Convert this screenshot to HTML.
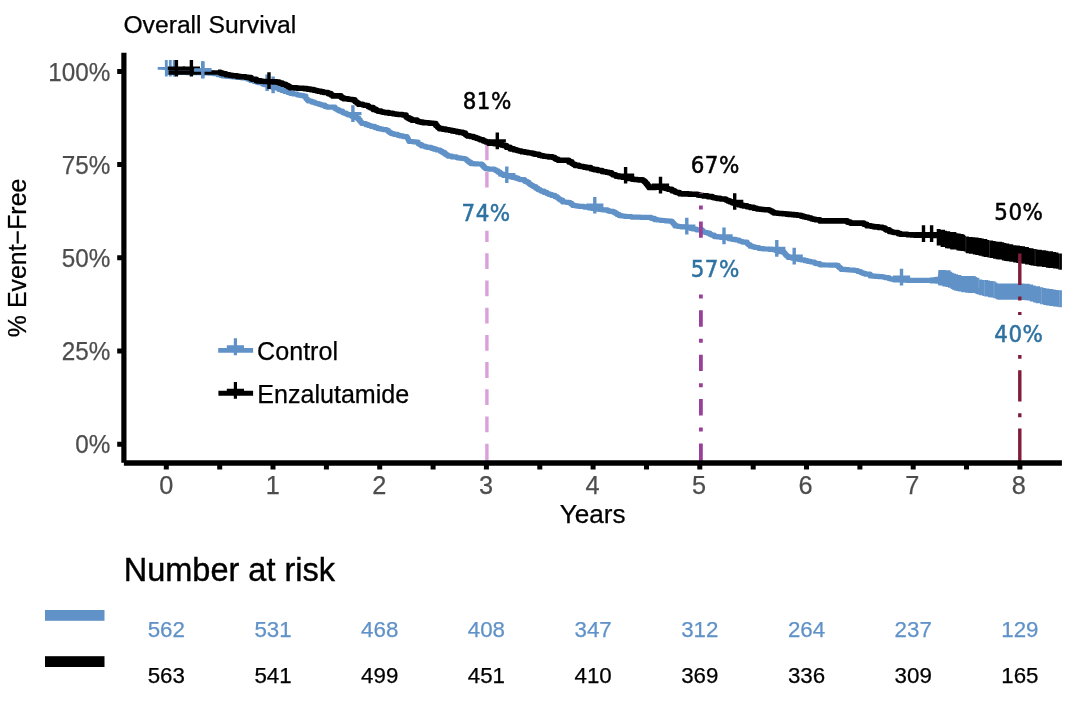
<!DOCTYPE html>
<html lang="en"><head><meta charset="utf-8"><title>Overall Survival</title>
<style>html,body{margin:0;padding:0;background:#fff}svg{display:block}text{font-family:"Liberation Sans",Arial,Helvetica,sans-serif}.ann{font-family:"DejaVu Sans Condensed","Liberation Sans",sans-serif}</style></head><body>
<svg width="1080" height="709" viewBox="0 0 1080 709">
<rect width="1080" height="709" fill="#fff"/>
<text stroke="#000" stroke-width="0.25" x="123.4" y="33.1" font-size="24.7" fill="#000">Overall Survival</text>
<text stroke="#000" stroke-width="0.25" transform="translate(26.3,257.9) rotate(-90)" text-anchor="middle" font-size="25.4" textLength="158.5" lengthAdjust="spacingAndGlyphs" fill="#000">% Event−Free</text>
<text stroke="#4d4d4d" stroke-width="0.25" x="110.4" y="80.6" text-anchor="end" font-size="25.6" textLength="62.1" lengthAdjust="spacingAndGlyphs" fill="#4d4d4d">100%</text>
<text stroke="#4d4d4d" stroke-width="0.25" x="110.4" y="173.8" text-anchor="end" font-size="25.6" textLength="48.6" lengthAdjust="spacingAndGlyphs" fill="#4d4d4d">75%</text>
<text stroke="#4d4d4d" stroke-width="0.25" x="110.4" y="267.0" text-anchor="end" font-size="25.6" textLength="48.6" lengthAdjust="spacingAndGlyphs" fill="#4d4d4d">50%</text>
<text stroke="#4d4d4d" stroke-width="0.25" x="110.4" y="360.2" text-anchor="end" font-size="25.6" textLength="48.6" lengthAdjust="spacingAndGlyphs" fill="#4d4d4d">25%</text>
<text stroke="#4d4d4d" stroke-width="0.25" x="110.4" y="453.4" text-anchor="end" font-size="25.6" textLength="35.1" lengthAdjust="spacingAndGlyphs" fill="#4d4d4d">0%</text>
<text stroke="#4d4d4d" stroke-width="0.25" x="166.3" y="493.5" text-anchor="middle" font-size="25.3" fill="#4d4d4d">0</text>
<text stroke="#4d4d4d" stroke-width="0.25" x="272.9" y="493.5" text-anchor="middle" font-size="25.3" fill="#4d4d4d">1</text>
<text stroke="#4d4d4d" stroke-width="0.25" x="379.4" y="493.5" text-anchor="middle" font-size="25.3" fill="#4d4d4d">2</text>
<text stroke="#4d4d4d" stroke-width="0.25" x="486.0" y="493.5" text-anchor="middle" font-size="25.3" fill="#4d4d4d">3</text>
<text stroke="#4d4d4d" stroke-width="0.25" x="592.5" y="493.5" text-anchor="middle" font-size="25.3" fill="#4d4d4d">4</text>
<text stroke="#4d4d4d" stroke-width="0.25" x="699.0" y="493.5" text-anchor="middle" font-size="25.3" fill="#4d4d4d">5</text>
<text stroke="#4d4d4d" stroke-width="0.25" x="805.6" y="493.5" text-anchor="middle" font-size="25.3" fill="#4d4d4d">6</text>
<text stroke="#4d4d4d" stroke-width="0.25" x="912.2" y="493.5" text-anchor="middle" font-size="25.3" fill="#4d4d4d">7</text>
<text stroke="#4d4d4d" stroke-width="0.25" x="1018.7" y="493.5" text-anchor="middle" font-size="25.3" fill="#4d4d4d">8</text>
<text stroke="#000" stroke-width="0.25" x="592.6" y="522.9" text-anchor="middle" font-size="26.1" fill="#000">Years</text>
<path d="M486.9 144.5V160.3M486.9 171.7V187.5M486.9 230.8V242.1M486.9 253.3V269.1M486.9 280.5V296.3M486.9 307.7V323.5M486.9 334.9V350.7M486.9 362.1V377.9M486.9 389.3V405.1M486.9 416.5V432.3M486.9 443.7V461.0" stroke="#daa0da" stroke-width="3.4" fill="none"/>
<path d="M166.3 72.3H171.5V72.4H173.3V72.4H175.8V72.4H179.3V72.5H184.5V72.5H186.3V72.6H187.8V72.6H190.2V72.6H192.6V72.6H195.4V72.7H198.4V72.7H200.0V72.7H205.0V72.8H208.2V73.1H209.8V73.2H213.5V73.6H218.0V74.7H220.4V75.3H222.6V75.9H225.9V76.2H227.4V76.4H230.6V76.7H233.4V77.0H235.0V77.1H237.0V77.3H241.6V77.8H245.1V78.1H247.5V79.1H250.7V80.4H253.7V81.3H256.4V82.1H258.6V82.7H262.5V84.0H264.1V84.6H267.7V85.8H270.0V86.6H272.3V87.3H274.0V87.8H278.9V89.4H281.7V90.4H284.6V91.4H287.9V92.5H290.2V93.3H293.4V94.0H297.2V94.8H299.1V95.2H300.9V95.6H303.8V96.2H305.9V98.4H306.5V99.0H307.3V99.9H308.3V101.0H311.8V102.1H314.7V103.0H316.8V103.6H319.0V104.3H321.4V105.1H324.9V106.4H326.9V107.1H330.3V107.1H332.6V107.1H335.0V108.5H336.0V109.1H337.3V109.9H339.3V111.1H342.6V112.5H343.8V113.1H346.3V114.1H348.3V115.0H351.6V116.2H354.7V117.4H357.4V118.4H359.0V120.2H360.3V121.6H360.8V122.3H361.9V123.5H365.9V124.7H368.5V125.5H370.9V126.3H374.8V127.6H377.7V128.6H380.6V129.1H382.9V129.6H386.7V130.3H388.3V131.5H389.6V132.5H391.2V133.6H393.9V134.3H397.7V135.3H400.2V135.9H403.0V136.6H407.0V137.6H407.7V138.8H408.4V140.1H408.7V140.7H409.2V141.5H413.1V141.8H416.0V142.1H418.1V143.6H418.9V144.1H419.9V144.7H421.7V146.0H425.1V146.8H427.6V147.4H431.3V148.3H434.1V149.2H436.6V150.0H440.3V151.2H442.1V152.3H444.6V153.9H446.4V155.1H448.2V156.2H452.0V156.9H456.6V157.6H458.1V157.9H460.0V158.2H461.9V158.5H465.1V159.1H466.4V160.1H467.5V161.0H469.0V162.2H470.8V163.6H474.0V163.8H478.0V164.0H480.9V164.1H482.0V165.2H483.2V166.4H484.3V167.5H485.4V168.6H488.2V169.0H489.8V169.2H494.4V169.8H496.1V170.8H498.2V172.2H500.1V173.3H501.5V174.2H503.5V175.4H506.7V176.1H509.1V176.7H512.0V177.3H515.9V178.2H518.2V179.0H519.9V179.6H524.7V181.3H527.1V182.2H528.8V183.5H530.0V184.5H531.6V185.6H533.3V186.6H535.8V188.2H537.9V189.6H540.2V190.6H541.4V191.2H544.1V192.4H546.9V193.6H549.1V194.4H551.6V195.4H555.0V196.7H557.1V197.5H558.3V198.5H559.2V199.2H560.3V200.1H562.7V202.0H566.4V202.3H569.5V202.6H570.5V203.4H571.8V204.5H572.9V205.4H575.3V205.8H577.9V206.2H579.7V206.4H584.1V207.1H589.0V207.9H590.4V208.1H592.3V208.4H594.8V208.8H599.1V209.4H600.8V209.6H603.3V209.9H607.5V210.8H610.0V211.4H613.5V212.2H615.3V213.3H617.1V214.4H619.1V215.6H622.0V216.0H624.5V216.3H626.6V216.5H631.5V217.1H635.1V217.2H638.1V217.2H640.3V217.3H642.2V217.3H645.5V217.3H649.0V217.4H651.1V218.3H654.7V219.7H657.5V220.0H660.3V220.3H662.7V220.5H665.2V220.8H668.7V221.1H671.6V221.4H672.3V222.4H672.9V223.1H673.8V224.3H675.0V225.9H677.5V226.3H679.2V226.5H681.0V226.8H686.8V227.6H690.8V228.5H692.9V229.0H696.4V229.8H702.4V231.6H704.0V232.1H705.4V232.5H707.7V233.2H709.9V234.3H711.5V235.1H714.4V236.6H717.6V237.0H720.3V237.3H724.0V237.7H729.0V238.7H730.8V239.0H732.7V239.4H735.9V240.0H739.1V241.0H741.2V241.6H743.0V242.2H747.1V243.4H747.8V244.1H748.3V244.6H750.0V246.2H752.5V246.8H755.0V247.5H759.0V248.5H761.9V248.7H763.6V248.9H765.2V249.0H768.9V249.3H772.6V249.6H775.7V250.5H777.1V251.0H779.7V251.7H783.8V253.0H785.2V254.4H786.0V255.2H786.8V256.0H788.3V257.5H791.7V258.1H796.3V259.0H798.1V259.3H800.8V259.8H804.8V260.7H807.5V261.3H810.9V262.0H814.7V263.2H816.4V263.7H819.9V264.8H822.9V264.9H824.5V265.0H826.5V265.0H829.3V265.1H831.3V265.2H836.8V265.4H838.3V266.7H839.1V267.4H840.2V268.3H841.4V269.4H845.5V269.7H848.7V270.0H851.8V270.2H854.9V270.5H857.8V271.5H860.8V272.6H862.8V273.3H865.3V274.2H870.2V275.9H873.1V276.2H875.6V276.4H878.8V276.7H882.6V277.0H884.9V277.6H888.9V278.6H890.9V279.1H893.8V279.8H896.8V280.0H898.2V280.0H901.5V280.2H904.5V280.2H906.7V280.3H909.6V280.3H911.6V280.3H916.4V280.4H920.2V280.4H922.7V280.3H925.0V280.3H927.2V280.3H931.7V280.3H934.7V280.2H938.4V280.2" fill="none" stroke="#6092c8" stroke-width="5.2" stroke-linejoin="round"/>
<polygon points="930.0,277.4 933.6,277.4 933.6,277.0 935.2,277.0 935.2,276.8 937.8,276.8 937.8,276.5 937.9,276.5 937.9,275.4 938.1,275.4 938.1,273.2 938.2,273.2 938.2,272.5 938.2,272.5 938.2,271.7 938.3,271.7 938.3,271.1 938.4,271.1 938.4,269.9 942.3,269.9 942.3,270.1 945.5,270.1 945.5,270.2 948.0,270.2 948.0,270.3 950.6,270.3 950.6,271.8 952.1,271.8 952.1,272.7 953.6,272.7 953.6,273.6 955.8,273.6 955.8,274.2 958.0,274.2 958.0,274.9 961.3,274.9 961.3,275.9 965.2,275.9 965.2,276.0 968.3,276.0 968.3,276.1 970.1,276.1 970.1,276.1 974.8,276.1 974.8,276.2 975.9,276.2 975.9,277.0 977.0,277.0 977.0,277.8 979.3,277.8 979.3,279.5 982.4,279.5 982.4,279.9 984.4,279.9 984.4,280.1 988.0,280.1 988.0,280.6 990.1,280.6 990.1,280.9 992.9,280.9 992.9,281.2 995.6,281.2 995.6,282.6 997.4,282.6 997.4,283.5 1000.4,283.5 1000.4,283.5 1002.7,283.5 1002.7,283.5 1004.3,283.5 1004.3,283.5 1006.2,283.5 1006.2,283.5 1010.6,283.5 1010.6,283.5 1013.8,283.5 1013.8,283.5 1017.7,283.5 1017.7,283.5 1020.6,283.5 1020.6,283.6 1024.5,283.6 1024.5,283.7 1026.7,283.7 1026.7,283.7 1029.8,283.7 1029.8,284.6 1033.1,284.6 1033.1,285.6 1035.7,285.6 1035.7,286.3 1040.1,286.3 1040.1,287.3 1043.3,287.3 1043.3,288.0 1045.9,288.0 1045.9,288.6 1049.3,288.6 1049.3,289.1 1052.9,289.1 1052.9,289.6 1055.6,289.6 1055.6,289.9 1058.3,289.9 1058.3,290.3 1061.9,290.3 1061.9,291.4 1061.9,308.3 1061.9,307.2 1058.3,307.2 1058.3,306.8 1055.6,306.8 1055.6,306.5 1052.9,306.5 1052.9,306.0 1049.3,306.0 1049.3,305.5 1045.9,305.5 1045.9,304.9 1043.3,304.9 1043.3,304.2 1040.1,304.2 1040.1,303.2 1035.7,303.2 1035.7,302.4 1033.1,302.4 1033.1,301.4 1029.8,301.4 1029.8,300.4 1026.7,300.4 1026.7,300.3 1024.5,300.3 1024.5,300.0 1020.6,300.0 1020.6,299.8 1017.7,299.8 1017.7,299.8 1013.8,299.8 1013.8,299.8 1010.6,299.8 1010.6,299.8 1006.2,299.8 1006.2,299.8 1004.3,299.8 1004.3,299.8 1002.7,299.8 1002.7,299.8 1000.4,299.8 1000.4,299.8 997.4,299.8 997.4,299.2 995.6,299.2 995.6,298.2 992.9,298.2 992.9,297.6 990.1,297.6 990.1,297.2 988.0,297.2 988.0,296.4 984.4,296.4 984.4,296.0 982.4,296.0 982.4,295.3 979.3,295.3 979.3,294.4 977.0,294.4 977.0,294.0 975.9,294.0 975.9,293.6 974.8,293.6 974.8,293.1 970.1,293.1 970.1,293.0 968.3,293.0 968.3,292.7 965.2,292.7 965.2,292.3 961.3,292.3 961.3,291.6 958.0,291.6 958.0,291.1 955.8,291.1 955.8,290.6 953.6,290.6 953.6,289.8 952.1,289.8 952.1,289.1 950.6,289.1 950.6,287.7 948.0,287.7 948.0,287.1 945.5,287.1 945.5,286.4 942.3,286.4 942.3,285.5 938.4,285.5 938.4,285.2 938.3,285.2 938.3,285.0 938.2,285.0 938.2,284.8 938.2,284.8 938.2,284.7 938.1,284.7 938.1,284.1 937.9,284.1 937.9,283.8 937.8,283.8 937.8,283.7 935.2,283.7 935.2,283.6 933.6,283.6 933.6,283.4 930.0,283.4" fill="#6092c8"/>
<path d="M157.7 68.3H174.9M166.3 60.0V76.6" stroke="#6092c8" stroke-width="2.8" fill="none"/>
<path d="M161.7 68.3H178.9M170.3 60.0V76.6" stroke="#6092c8" stroke-width="2.8" fill="none"/>
<path d="M165.6 68.3H182.8M174.2 60.0V76.6" stroke="#6092c8" stroke-width="2.8" fill="none"/>
<path d="M194.1 69.9H211.3M202.7 61.6V78.2" stroke="#6092c8" stroke-width="3.4" fill="none"/>
<path d="M258.5 82.7H275.7M267.1 74.4V91.0" stroke="#6092c8" stroke-width="3.4" fill="none"/>
<path d="M264.5 84.9H281.7M273.1 76.6V93.2" stroke="#6092c8" stroke-width="3.4" fill="none"/>
<path d="M344.3 113.6H361.5M352.9 105.3V121.9" stroke="#6092c8" stroke-width="3.4" fill="none"/>
<path d="M498.2 174.8H515.4M506.8 166.5V183.1" stroke="#6092c8" stroke-width="3.4" fill="none"/>
<path d="M586.2 205.3H603.4M594.8 197.0V213.6" stroke="#6092c8" stroke-width="3.4" fill="none"/>
<path d="M678.2 226.1H695.4M686.8 217.8V234.4" stroke="#6092c8" stroke-width="3.4" fill="none"/>
<path d="M715.4 235.9H732.6M724.0 227.6V244.2" stroke="#6092c8" stroke-width="3.4" fill="none"/>
<path d="M768.2 248.4H785.4M776.8 240.1V256.7" stroke="#6092c8" stroke-width="3.4" fill="none"/>
<path d="M785.6 256.1H802.8M794.2 247.8V264.4" stroke="#6092c8" stroke-width="3.4" fill="none"/>
<path d="M892.9 277.1H910.1M901.5 268.8V285.4" stroke="#6092c8" stroke-width="3.4" fill="none"/>
<path d="M168.6 72.4H221" fill="none" stroke="#000" stroke-width="4.5"/>
<path d="M218.0 72.4H220.6V73.1H222.7V73.8H225.9V74.7H229.6V75.3H232.0V75.6H233.5V75.8H237.2V76.4H239.5V76.6H241.1V76.8H245.6V77.3H248.5V77.6H251.1V78.7H252.4V79.2H256.4V80.9H261.0V81.3H263.2V81.5H268.1V81.7H269.8V81.8H273.2V81.9H276.7V82.1H279.3V83.1H282.4V84.2H285.7V85.5H288.2V86.7H290.2V87.7H294.5V87.9H296.8V88.1H298.7V88.2H301.5V88.3H303.9V88.6H307.3V89.1H310.5V89.6H313.8V90.3H316.2V90.8H318.2V91.2H321.3V91.9H323.6V92.5H328.0V93.6H330.9V95.0H332.6V95.9H335.3V95.9H338.2V95.9H341.0V97.3H342.2V97.9H343.8V98.7H348.3V99.2H350.4V99.5H352.9V99.8H354.8V101.3H355.6V102.0H357.0V103.1H358.5V104.3H362.8V105.0H364.3V105.2H366.4V105.5H368.0V106.4H368.9V107.0H370.0V107.6H373.2V109.4H376.2V110.5H377.7V111.1H381.1V111.8H383.0V112.2H385.2V112.6H388.9V113.3H393.0V113.8H394.5V114.0H396.4V114.2H398.1V114.5H402.5V115.0H406.1V117.1H407.6V117.9H409.4V118.9H411.5V120.1H417.1V121.3H418.8V121.7H420.5V122.1H422.8V122.6H425.6V122.8H428.8V123.1H430.8V123.3H433.5V123.5H435.8V125.5H437.2V126.8H438.0V127.5H439.2V128.6H442.4V129.1H445.8V129.7H449.3V130.3H452.0V130.9H454.4V131.3H457.1V131.9H459.7V132.4H462.9V133.1H465.3V134.6H466.3V135.2H467.4V135.9H469.9V136.5H473.6V137.5H476.4V138.2H478.4V139.0H480.2V139.7H483.2V141.0H485.6V142.0H488.8V143.3H494.0V143.6H496.0V143.7H498.9V143.8H501.3V144.9H502.8V145.5H506.4V147.2H510.2V148.9H513.8V149.8H516.7V150.5H518.8V151.0H521.5V151.7H525.1V152.2H527.9V152.7H530.0V153.0H532.6V153.6H534.9V154.2H539.0V155.2H541.3V155.8H543.7V156.2H545.8V156.5H548.8V156.9H552.6V157.5H554.8V158.6H556.1V159.2H558.2V160.3H560.2V160.3H561.9V160.3H566.1V160.3H568.9V161.9H571.8V163.5H573.2V164.3H575.1V165.4H578.9V166.1H580.6V166.5H583.7V167.1H586.4V167.6H590.7V168.7H592.4V169.1H594.0V169.6H597.7V170.5H602.1V171.4H603.8V171.7H606.4V172.2H608.9V172.7H611.6V174.0H612.9V174.7H615.7V176.1H619.0V176.7H622.4V177.2H625.9V177.8H628.6V178.4H631.8V179.1H633.8V179.5H637.6V179.8H639.2V179.9H642.8V180.2H643.5V180.9H644.4V181.8H645.6V183.0H646.3V183.9H647.4V185.3H647.9V185.9H649.0V187.4H651.5V187.4H655.2V187.3H656.6V187.3H660.3V187.2H663.5V188.0H665.4V188.5H668.2V189.2H671.9V190.7H674.7V191.8H676.2V192.5H679.5V193.8H682.2V193.9H683.8V193.9H688.4V194.1H691.4V194.2H694.1V194.3H697.7V194.9H699.4V195.2H701.4V195.5H703.4V195.9H707.7V196.6H712.4V197.5H714.0V197.8H715.8V198.1H717.4V198.4H720.3V199.0H725.7V200.0H727.6V200.8H729.8V201.8H732.2V202.8H734.7V203.9H738.5V204.8H741.2V205.4H743.5V205.9H747.1V206.7H750.2V207.4H753.8V208.3H756.8V209.0H760.1V209.3H761.9V209.5H764.3V209.7H769.2V210.2H770.4V211.0H772.1V212.0H773.7V213.0H777.6V213.3H779.2V213.5H782.9V213.8H786.1V214.1H789.0V214.4H791.5V214.6H794.6V214.9H797.4V215.2H801.0V216.1H803.6V216.7H805.9V217.3H808.6V218.0H811.3V218.7H813.2V219.2H815.5V219.8H819.9V220.9H824.7V220.9H826.2V220.9H828.4V220.9H832.0V220.9H835.8V220.9H837.3V220.9H839.0V220.9H843.6V220.9H847.3V222.1H850.4V223.1H853.2V223.1H855.4V223.1H858.7V223.1H861.7V223.1H863.9V224.2H866.8V225.7H871.1V226.3H873.1V226.6H875.0V226.9H878.7V227.4H882.6V228.0H885.2V229.3H886.3V229.9H889.3V231.4H891.6V232.0H893.6V232.5H898.0V233.6H900.6V234.2H907.5V234.7H909.4V234.8H911.3V234.9H914.1V235.1H919.0V235.2H922.2V235.2H925.4V235.2H927.5V235.3H929.7V235.3H931.8V235.3H933.5V235.4H937.0V235.4" fill="none" stroke="#000" stroke-width="5.6" stroke-linejoin="round"/>
<path d="M194.1 69.9H211.3M202.7 61.6V78.2" stroke="#6092c8" stroke-width="3.2" fill="none"/>
<polygon points="936.7,229.1 940.6,229.1 940.6,229.7 945.0,229.7 945.0,230.7 947.0,230.7 947.0,231.2 950.2,231.2 950.2,231.9 956.4,231.9 956.4,233.2 958.3,233.2 958.3,233.6 960.7,233.6 960.7,234.1 963.7,234.1 963.7,234.7 965.2,234.7 965.2,235.9 966.0,235.9 966.0,236.5 968.9,236.5 968.9,236.9 972.8,236.9 972.8,237.3 975.4,237.3 975.4,237.6 978.6,237.6 978.6,238.0 981.6,238.0 981.6,238.4 983.8,238.4 983.8,239.0 987.3,239.0 987.3,240.0 989.5,240.0 989.5,240.6 993.1,240.6 993.1,241.1 995.6,241.1 995.6,241.4 997.4,241.4 997.4,241.7 1001.9,241.7 1001.9,242.3 1004.2,242.3 1004.2,242.9 1006.4,242.9 1006.4,243.5 1009.3,243.5 1009.3,244.2 1013.2,244.2 1013.2,245.2 1016.3,245.2 1016.3,245.6 1019.8,245.6 1019.8,246.0 1022.2,246.0 1022.2,246.3 1025.1,246.3 1025.1,247.0 1028.9,247.0 1028.9,248.0 1030.4,248.0 1030.4,248.3 1033.5,248.3 1033.5,249.1 1036.5,249.1 1036.5,249.5 1038.1,249.5 1038.1,249.7 1041.8,249.7 1041.8,250.2 1045.9,250.2 1045.9,250.8 1048.3,250.8 1048.3,251.2 1053.1,251.2 1053.1,252.0 1056.0,252.0 1056.0,252.5 1058.4,252.5 1058.4,253.4 1061.9,253.4 1061.9,254.7 1061.9,271.1 1061.9,269.7 1058.4,269.7 1058.4,268.8 1056.0,268.8 1056.0,268.5 1053.1,268.5 1053.1,268.0 1048.3,268.0 1048.3,267.7 1045.9,267.7 1045.9,267.1 1041.8,267.1 1041.8,266.6 1038.1,266.6 1038.1,266.4 1036.5,266.4 1036.5,266.0 1033.5,266.0 1033.5,265.4 1030.4,265.4 1030.4,265.1 1028.9,265.1 1028.9,264.4 1025.1,264.4 1025.1,263.8 1022.2,263.8 1022.2,263.5 1019.8,263.5 1019.8,263.0 1016.3,263.0 1016.3,262.6 1013.2,262.6 1013.2,261.8 1009.3,261.8 1009.3,261.3 1006.4,261.3 1006.4,260.9 1004.2,260.9 1004.2,260.4 1001.9,260.4 1001.9,259.6 997.4,259.6 997.4,259.2 995.6,259.2 995.6,258.8 993.1,258.8 993.1,258.1 989.5,258.1 989.5,257.6 987.3,257.6 987.3,256.9 983.8,256.9 983.8,256.4 981.6,256.4 981.6,255.8 978.6,255.8 978.6,255.1 975.4,255.1 975.4,254.6 972.8,254.6 972.8,253.8 968.9,253.8 968.9,253.2 966.0,253.2 966.0,252.6 965.2,252.6 965.2,251.6 963.7,251.6 963.7,251.1 960.7,251.1 960.7,250.7 958.3,250.7 958.3,250.4 956.4,250.4 956.4,249.4 950.2,249.4 950.2,248.6 947.0,248.6 947.0,248.2 945.0,248.2 945.0,247.1 940.6,247.1 940.6,245.5 936.7,245.5" fill="#000"/>
<path d="M167.8 68.3H185.0M176.4 60.0V76.6" stroke="#000" stroke-width="3.4" fill="none"/>
<path d="M182.8 68.3H200.0M191.4 60.0V76.6" stroke="#000" stroke-width="3.4" fill="none"/>
<path d="M260.4 80.6H277.6M269.0 72.3V88.9" stroke="#000" stroke-width="3.4" fill="none"/>
<path d="M488.7 140.9H505.9M497.3 132.6V149.2" stroke="#000" stroke-width="3.4" fill="none"/>
<path d="M617.0 175.2H634.2M625.6 166.9V183.5" stroke="#000" stroke-width="3.4" fill="none"/>
<path d="M651.9 185.1H669.1M660.5 176.8V193.4" stroke="#000" stroke-width="3.4" fill="none"/>
<path d="M726.1 201.5H743.3M734.7 193.2V209.8" stroke="#000" stroke-width="3.4" fill="none"/>
<path d="M914.9 233.6H932.1M923.5 225.3V241.9" stroke="#000" stroke-width="3.4" fill="none"/>
<path d="M923.0 233.6H940.2M931.6 225.3V241.9" stroke="#000" stroke-width="3.4" fill="none"/>
<path d="M965.8 236.0V253.0M989.5 240.0V258.5M1035.1 249.0V266.5M1059.6 253.5V270.5M978.8 279.0V288.0M984.4 280.0V296.5M994.0 282.0V298.5M1041.4 287.5V304.5M1059.6 291.0V308.0" stroke="#fff" stroke-opacity="0.22" stroke-width="0.7" fill="none"/>
<path d="M194.1 69.9H211.3M202.7 61.6V78.2" stroke="#6092c8" stroke-width="3.2" fill="none"/>
<path d="M700.9 192.9V193.8M700.9 205.6V209.6M700.9 221.6V237.8M700.9 294.4V298.4M700.9 310.3V326.8M700.9 338.8V342.8M700.9 354.7V371.1M700.9 383.2V387.2M700.9 399.1V415.5M700.9 427.6V431.6M700.9 443.5V461.0" stroke="#994199" stroke-width="3.8" fill="none"/>
<path d="M1019.8 253.6V285.0M1019.8 296.6V300.5M1019.8 311.9V315.0M1019.8 354.9V358.8M1019.8 370.2V401.6M1019.8 413.2V417.2M1019.8 428.6V461.0" stroke="#801c38" stroke-width="3.4" fill="none"/>
<path d="M123.9 52.8V462.8" stroke="#000" stroke-width="5.2" fill="none"/>
<path d="M123.9 462.9H1061.9" stroke="#000" stroke-width="5.5" fill="none"/>
<path d="M117.2 71.4H123M117.2 164.6H123M117.2 257.8H123M117.2 351.0H123M117.2 444.2H123" stroke="#000" stroke-width="5.0" fill="none"/>
<path d="M166.3 464V469.6M219.7 464V469.6M273.0 464V469.6M326.4 464V469.6M379.7 464V469.6M433.1 464V469.6M486.4 464V469.6M539.8 464V469.6M593.1 464V469.6M646.5 464V469.6M699.8 464V469.6M753.2 464V469.6M806.5 464V469.6M859.9 464V469.6M913.2 464V469.6M966.5 464V469.6M1019.9 464V469.6" stroke="#000" stroke-width="5" fill="none"/>
<text class="ann" x="487.3" y="109.0" text-anchor="middle" font-size="23.8" letter-spacing="0.55" fill="#000" stroke="#000" stroke-width="0.5">81%</text>
<text class="ann" x="486.1" y="220.9" text-anchor="middle" font-size="23.8" letter-spacing="0.55" fill="#2e72a1" stroke="#2e72a1" stroke-width="0.5">74%</text>
<text class="ann" x="715.3" y="173.0" text-anchor="middle" font-size="23.8" letter-spacing="0.55" fill="#000" stroke="#000" stroke-width="0.5">67%</text>
<text class="ann" x="715.3" y="277.4" text-anchor="middle" font-size="23.8" letter-spacing="0.55" fill="#2e72a1" stroke="#2e72a1" stroke-width="0.5">57%</text>
<text class="ann" x="1018.9" y="220.2" text-anchor="middle" font-size="23.8" letter-spacing="0.55" fill="#000" stroke="#000" stroke-width="0.5">50%</text>
<text class="ann" x="1018.9" y="341.9" text-anchor="middle" font-size="23.8" letter-spacing="0.55" fill="#2e72a1" stroke="#2e72a1" stroke-width="0.5">40%</text>
<path d="M218.2 350.4H253.1" stroke="#6092c8" stroke-width="4.8"/>
<path d="M226.8 346.8H244.0M235.4 338.3V355.3" stroke="#6092c8" stroke-width="3.2" fill="none"/>
<path d="M218.4 393.3H253.1" stroke="#000" stroke-width="5"/>
<path d="M226.8 390.3H244.0M235.4 381.9V398.7" stroke="#000" stroke-width="3.2" fill="none"/>
<text stroke="#000" stroke-width="0.25" x="257.1" y="359.5" font-size="25.1" fill="#000">Control</text>
<text stroke="#000" stroke-width="0.25" x="257.2" y="402.8" font-size="25.1" fill="#000">Enzalutamide</text>
<text x="123.7" y="580.6" font-size="32.5" fill="#000" stroke="#000" stroke-width="0.4">Number at risk</text>
<rect x="45" y="610" width="59.5" height="10.8" fill="#6092c8"/>
<rect x="45" y="656.2" width="59.5" height="10.8" fill="#000"/>
<text stroke="#6092c8" stroke-width="0.25" x="166.3" y="636.8" text-anchor="middle" font-size="22.3" fill="#6092c8">562</text>
<text stroke="#000" stroke-width="0.25" x="166.3" y="683" text-anchor="middle" font-size="22.3" fill="#000">563</text>
<text stroke="#6092c8" stroke-width="0.25" x="273.0" y="636.8" text-anchor="middle" font-size="22.3" fill="#6092c8">531</text>
<text stroke="#000" stroke-width="0.25" x="273.0" y="683" text-anchor="middle" font-size="22.3" fill="#000">541</text>
<text stroke="#6092c8" stroke-width="0.25" x="379.7" y="636.8" text-anchor="middle" font-size="22.3" fill="#6092c8">468</text>
<text stroke="#000" stroke-width="0.25" x="379.7" y="683" text-anchor="middle" font-size="22.3" fill="#000">499</text>
<text stroke="#6092c8" stroke-width="0.25" x="486.4" y="636.8" text-anchor="middle" font-size="22.3" fill="#6092c8">408</text>
<text stroke="#000" stroke-width="0.25" x="486.4" y="683" text-anchor="middle" font-size="22.3" fill="#000">451</text>
<text stroke="#6092c8" stroke-width="0.25" x="593.1" y="636.8" text-anchor="middle" font-size="22.3" fill="#6092c8">347</text>
<text stroke="#000" stroke-width="0.25" x="593.1" y="683" text-anchor="middle" font-size="22.3" fill="#000">410</text>
<text stroke="#6092c8" stroke-width="0.25" x="699.8" y="636.8" text-anchor="middle" font-size="22.3" fill="#6092c8">312</text>
<text stroke="#000" stroke-width="0.25" x="699.8" y="683" text-anchor="middle" font-size="22.3" fill="#000">369</text>
<text stroke="#6092c8" stroke-width="0.25" x="806.5" y="636.8" text-anchor="middle" font-size="22.3" fill="#6092c8">264</text>
<text stroke="#000" stroke-width="0.25" x="806.5" y="683" text-anchor="middle" font-size="22.3" fill="#000">336</text>
<text stroke="#6092c8" stroke-width="0.25" x="913.2" y="636.8" text-anchor="middle" font-size="22.3" fill="#6092c8">237</text>
<text stroke="#000" stroke-width="0.25" x="913.2" y="683" text-anchor="middle" font-size="22.3" fill="#000">309</text>
<text stroke="#6092c8" stroke-width="0.25" x="1019.9" y="636.8" text-anchor="middle" font-size="22.3" fill="#6092c8">129</text>
<text stroke="#000" stroke-width="0.25" x="1019.9" y="683" text-anchor="middle" font-size="22.3" fill="#000">165</text>
</svg></body></html>
